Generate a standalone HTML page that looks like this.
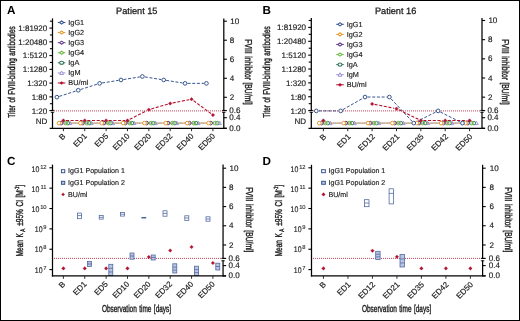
<!DOCTYPE html>
<html lang="en">
<head>
<meta charset="utf-8">
<title>FVIII-binding antibodies and inhibitor: Patient 15 and Patient 16</title>
<style>
html,body{margin:0;padding:0;background:#fff;}
body{width:520px;height:321px;overflow:hidden;position:relative;}
#fig{position:absolute;left:0;top:0;width:520px;height:321px;box-sizing:border-box;border:1px solid #000;background:#fff;}
svg{position:absolute;left:0;top:0;display:block;}
svg text{font-family:"Liberation Sans",sans-serif;text-rendering:geometricPrecision;stroke:#1a1a1a;stroke-width:0.15px;paint-order:stroke;}
svg text.lab{stroke-width:0.38px;}
svg text.sup{stroke-width:0.1px;}
svg text.leg{stroke-width:0.15px;}
svg text.pl{stroke-width:0;}
svg text.ttl{stroke-width:0.28px;}
</style>
</head>
<body>
<div id="fig"></div>
<svg width="520" height="321" viewBox="0 0 520 321" role="img" aria-label="Antibody titers, affinity and FVIII inhibitor over time for patients 15 and 16">
<line x1="53.95" y1="110.90" x2="223.20" y2="110.90" stroke="#b3122f" stroke-width="1.0" stroke-dasharray="1 1" stroke-opacity="0.82"/>
<path d="M72.50,123.10L88.86,123.10M93.86,123.10L110.22,123.10M115.22,123.10L131.58,123.10M136.58,123.10L152.94,123.10M157.94,123.10L174.30,123.10M179.30,123.10L195.66,123.10M200.66,123.10L217.02,123.10" fill="none" stroke="#9d92d6" stroke-width="0.6" stroke-dasharray="3 1.7" stroke-opacity="0.4"/>
<path d="M70.30,123.10L86.66,123.10M91.66,123.10L108.02,123.10M113.02,123.10L129.38,123.10M134.38,123.10L150.74,123.10M155.74,123.10L172.10,123.10M177.10,123.10L193.46,123.10M198.46,123.10L214.82,123.10" fill="none" stroke="#34785a" stroke-width="0.6" stroke-dasharray="3 1.7" stroke-opacity="0.4"/>
<path d="M68.20,123.10L84.56,123.10M89.56,123.10L105.92,123.10M110.92,123.10L127.28,123.10M132.28,123.10L148.64,123.10M153.64,123.10L170.00,123.10M175.00,123.10L191.36,123.10M196.36,123.10L212.72,123.10" fill="none" stroke="#72bd4a" stroke-width="0.6" stroke-dasharray="3 1.7" stroke-opacity="0.4"/>
<path d="M63.70,123.10L80.06,123.10M85.06,123.10L101.42,123.10M106.42,123.10L122.78,123.10M127.78,123.10L144.14,123.10M149.14,123.10L165.50,123.10M170.50,123.10L186.86,123.10M191.86,123.10L208.22,123.10" fill="none" stroke="#633c8e" stroke-width="0.8" stroke-dasharray="3 1.7" stroke-opacity="0.55"/>
<path d="M61.50,123.10L77.86,123.10M82.86,123.10L99.22,123.10M104.22,123.10L120.58,123.10M125.58,123.10L141.94,123.10M146.94,123.10L163.30,123.10M168.30,123.10L184.66,123.10M189.66,123.10L206.02,123.10" fill="none" stroke="#e8982a" stroke-width="0.85" stroke-dasharray="3 1.7" stroke-opacity="0.95"/>
<path d="M59.28,96.38L75.88,91.04M80.64,89.50L97.24,84.16M102.09,82.99L118.51,80.35M123.45,79.56L139.87,76.91M144.81,76.91L161.23,79.56M166.17,80.35L182.59,82.99M187.56,83.39L203.92,83.39" fill="none" stroke="#37558f" stroke-width="1.0" stroke-dasharray="3 1.7" stroke-opacity="1"/>
<path d="M65.90,120.48L82.26,120.48M87.26,120.48L103.62,120.48M108.62,120.48L124.98,120.48M129.71,119.35L146.61,110.78M151.24,108.95L167.80,104.16M172.65,102.98L189.11,99.68M193.57,100.68L210.91,113.56" fill="none" stroke="#b3122f" stroke-width="1.1" stroke-dasharray="3.1 1.6" stroke-opacity="1"/>
<path d="M68.10,124.62 L70.00,121.20 L71.90,124.62 Z" fill="none" stroke="#9d92d6" stroke-width="0.95"/>
<path d="M89.46,124.62 L91.36,121.20 L93.26,124.62 Z" fill="none" stroke="#9d92d6" stroke-width="0.95"/>
<path d="M110.82,124.62 L112.72,121.20 L114.62,124.62 Z" fill="none" stroke="#9d92d6" stroke-width="0.95"/>
<path d="M132.18,124.62 L134.08,121.20 L135.98,124.62 Z" fill="none" stroke="#9d92d6" stroke-width="0.95"/>
<path d="M153.54,124.62 L155.44,121.20 L157.34,124.62 Z" fill="none" stroke="#9d92d6" stroke-width="0.95"/>
<path d="M174.90,124.62 L176.80,121.20 L178.70,124.62 Z" fill="none" stroke="#9d92d6" stroke-width="0.95"/>
<path d="M196.26,124.62 L198.16,121.20 L200.06,124.62 Z" fill="none" stroke="#9d92d6" stroke-width="0.95"/>
<path d="M217.62,124.62 L219.52,121.20 L221.42,124.62 Z" fill="none" stroke="#9d92d6" stroke-width="0.95"/>
<circle cx="67.80" cy="123.10" r="1.75" fill="#fff" stroke="#34785a" stroke-width="0.9"/>
<circle cx="89.16" cy="123.10" r="1.75" fill="#fff" stroke="#34785a" stroke-width="0.9"/>
<circle cx="110.52" cy="123.10" r="1.75" fill="#fff" stroke="#34785a" stroke-width="0.9"/>
<circle cx="131.88" cy="123.10" r="1.75" fill="#fff" stroke="#34785a" stroke-width="0.9"/>
<circle cx="153.24" cy="123.10" r="1.75" fill="#fff" stroke="#34785a" stroke-width="0.9"/>
<circle cx="174.60" cy="123.10" r="1.75" fill="#fff" stroke="#34785a" stroke-width="0.9"/>
<circle cx="195.96" cy="123.10" r="1.75" fill="#fff" stroke="#34785a" stroke-width="0.9"/>
<circle cx="217.32" cy="123.10" r="1.75" fill="#fff" stroke="#34785a" stroke-width="0.9"/>
<circle cx="65.70" cy="123.10" r="1.85" fill="none" stroke="#72bd4a" stroke-width="1.05"/>
<circle cx="87.06" cy="123.10" r="1.85" fill="none" stroke="#72bd4a" stroke-width="1.05"/>
<circle cx="108.42" cy="123.10" r="1.85" fill="none" stroke="#72bd4a" stroke-width="1.05"/>
<circle cx="129.78" cy="123.10" r="1.85" fill="none" stroke="#72bd4a" stroke-width="1.05"/>
<circle cx="151.14" cy="123.10" r="1.85" fill="none" stroke="#72bd4a" stroke-width="1.05"/>
<circle cx="172.50" cy="123.10" r="1.85" fill="none" stroke="#72bd4a" stroke-width="1.05"/>
<circle cx="193.86" cy="123.10" r="1.85" fill="none" stroke="#72bd4a" stroke-width="1.05"/>
<circle cx="215.22" cy="123.10" r="1.85" fill="none" stroke="#72bd4a" stroke-width="1.05"/>
<circle cx="61.20" cy="123.10" r="1.8" fill="none" stroke="#633c8e" stroke-width="1.0"/>
<circle cx="82.56" cy="123.10" r="1.8" fill="none" stroke="#633c8e" stroke-width="1.0"/>
<circle cx="103.92" cy="123.10" r="1.8" fill="none" stroke="#633c8e" stroke-width="1.0"/>
<circle cx="125.28" cy="123.10" r="1.8" fill="none" stroke="#633c8e" stroke-width="1.0"/>
<circle cx="146.64" cy="123.10" r="1.8" fill="none" stroke="#633c8e" stroke-width="1.0"/>
<circle cx="168.00" cy="123.10" r="1.8" fill="none" stroke="#633c8e" stroke-width="1.0"/>
<circle cx="189.36" cy="123.10" r="1.8" fill="none" stroke="#633c8e" stroke-width="1.0"/>
<circle cx="210.72" cy="123.10" r="1.8" fill="none" stroke="#633c8e" stroke-width="1.0"/>
<circle cx="59.00" cy="123.10" r="1.85" fill="#fff" stroke="#e8982a" stroke-width="1.0"/>
<circle cx="80.36" cy="123.10" r="1.85" fill="#fff" stroke="#e8982a" stroke-width="1.0"/>
<circle cx="101.72" cy="123.10" r="1.85" fill="#fff" stroke="#e8982a" stroke-width="1.0"/>
<circle cx="123.08" cy="123.10" r="1.85" fill="#fff" stroke="#e8982a" stroke-width="1.0"/>
<circle cx="144.44" cy="123.10" r="1.85" fill="#fff" stroke="#e8982a" stroke-width="1.0"/>
<circle cx="165.80" cy="123.10" r="1.85" fill="#fff" stroke="#e8982a" stroke-width="1.0"/>
<circle cx="187.16" cy="123.10" r="1.85" fill="#fff" stroke="#e8982a" stroke-width="1.0"/>
<circle cx="208.52" cy="123.10" r="1.85" fill="#fff" stroke="#e8982a" stroke-width="1.0"/>
<circle cx="56.90" cy="97.15" r="1.85" fill="#fff" stroke="#37558f" stroke-width="1.0"/>
<circle cx="78.26" cy="90.27" r="1.85" fill="#fff" stroke="#37558f" stroke-width="1.0"/>
<circle cx="99.62" cy="83.39" r="1.85" fill="#fff" stroke="#37558f" stroke-width="1.0"/>
<circle cx="120.98" cy="79.95" r="1.85" fill="#fff" stroke="#37558f" stroke-width="1.0"/>
<circle cx="142.34" cy="76.52" r="1.85" fill="#fff" stroke="#37558f" stroke-width="1.0"/>
<circle cx="163.70" cy="79.95" r="1.85" fill="#fff" stroke="#37558f" stroke-width="1.0"/>
<circle cx="185.06" cy="83.39" r="1.85" fill="#fff" stroke="#37558f" stroke-width="1.0"/>
<circle cx="206.42" cy="83.39" r="1.85" fill="#fff" stroke="#37558f" stroke-width="1.0"/>
<path d="M61.65,120.48 L63.40,118.73 L65.15,120.48 L63.40,122.23 Z" fill="#b3122f" stroke="#b3122f" stroke-width="0.4" stroke-linejoin="round"/>
<path d="M83.01,120.48 L84.76,118.73 L86.51,120.48 L84.76,122.23 Z" fill="#b3122f" stroke="#b3122f" stroke-width="0.4" stroke-linejoin="round"/>
<path d="M104.37,120.48 L106.12,118.73 L107.87,120.48 L106.12,122.23 Z" fill="#b3122f" stroke="#b3122f" stroke-width="0.4" stroke-linejoin="round"/>
<path d="M125.73,120.48 L127.48,118.73 L129.23,120.48 L127.48,122.23 Z" fill="#b3122f" stroke="#b3122f" stroke-width="0.4" stroke-linejoin="round"/>
<path d="M147.09,109.65 L148.84,107.90 L150.59,109.65 L148.84,111.40 Z" fill="#b3122f" stroke="#b3122f" stroke-width="0.4" stroke-linejoin="round"/>
<path d="M168.45,103.47 L170.20,101.72 L171.95,103.47 L170.20,105.22 Z" fill="#b3122f" stroke="#b3122f" stroke-width="0.4" stroke-linejoin="round"/>
<path d="M189.81,99.19 L191.56,97.44 L193.31,99.19 L191.56,100.94 Z" fill="#b3122f" stroke="#b3122f" stroke-width="0.4" stroke-linejoin="round"/>
<path d="M211.17,115.05 L212.92,113.30 L214.67,115.05 L212.92,116.80 Z" fill="#b3122f" stroke="#b3122f" stroke-width="0.4" stroke-linejoin="round"/>
<line x1="52.50" y1="18.40" x2="52.50" y2="110.85" stroke="#000" stroke-width="1.25" />
<line x1="52.50" y1="111.85" x2="52.50" y2="128.93" stroke="#000" stroke-width="1.25" />
<line x1="50.80" y1="110.40" x2="54.20" y2="110.40" stroke="#000" stroke-width="0.9" />
<line x1="50.80" y1="112.30" x2="54.20" y2="112.30" stroke="#000" stroke-width="0.9" />
<line x1="223.80" y1="18.40" x2="223.80" y2="110.85" stroke="#000" stroke-width="1.25" />
<line x1="223.80" y1="111.85" x2="223.80" y2="128.93" stroke="#000" stroke-width="1.25" />
<line x1="222.10" y1="110.40" x2="225.50" y2="110.40" stroke="#000" stroke-width="0.9" />
<line x1="222.10" y1="112.30" x2="225.50" y2="112.30" stroke="#000" stroke-width="0.9" />
<line x1="49.70" y1="128.30" x2="226.80" y2="128.30" stroke="#000" stroke-width="1.18" />
<line x1="49.90" y1="21.20" x2="52.50" y2="21.20" stroke="#000" stroke-width="1.1" />
<line x1="49.40" y1="28.08" x2="52.50" y2="28.08" stroke="#000" stroke-width="1.1" />
<text x="47.30" y="30.67" font-size="8.05" text-anchor="end" fill="#1a1a1a" >1:81920</text>
<line x1="49.90" y1="34.95" x2="52.50" y2="34.95" stroke="#000" stroke-width="1.1" />
<line x1="49.40" y1="41.83" x2="52.50" y2="41.83" stroke="#000" stroke-width="1.1" />
<text x="47.30" y="44.50" font-size="8.05" text-anchor="end" fill="#1a1a1a" >1:20480</text>
<line x1="49.90" y1="48.71" x2="52.50" y2="48.71" stroke="#000" stroke-width="1.1" />
<line x1="49.40" y1="55.58" x2="52.50" y2="55.58" stroke="#000" stroke-width="1.1" />
<text x="47.30" y="58.33" font-size="8.05" text-anchor="end" fill="#1a1a1a" >1:5120</text>
<line x1="49.90" y1="62.46" x2="52.50" y2="62.46" stroke="#000" stroke-width="1.1" />
<line x1="49.40" y1="69.34" x2="52.50" y2="69.34" stroke="#000" stroke-width="1.1" />
<text x="47.30" y="72.17" font-size="8.05" text-anchor="end" fill="#1a1a1a" >1:1280</text>
<line x1="49.90" y1="76.22" x2="52.50" y2="76.22" stroke="#000" stroke-width="1.1" />
<line x1="49.40" y1="83.09" x2="52.50" y2="83.09" stroke="#000" stroke-width="1.1" />
<text x="47.30" y="86.00" font-size="8.05" text-anchor="end" fill="#1a1a1a" >1:320</text>
<line x1="49.90" y1="89.97" x2="52.50" y2="89.97" stroke="#000" stroke-width="1.1" />
<line x1="49.40" y1="96.85" x2="52.50" y2="96.85" stroke="#000" stroke-width="1.1" />
<text x="47.30" y="99.84" font-size="8.05" text-anchor="end" fill="#1a1a1a" >1:80</text>
<line x1="49.90" y1="103.72" x2="52.50" y2="103.72" stroke="#000" stroke-width="1.1" />
<line x1="49.40" y1="110.60" x2="52.50" y2="110.60" stroke="#000" stroke-width="1.1" />
<text x="47.30" y="113.67" font-size="8.05" text-anchor="end" fill="#1a1a1a" >1:20</text>
<line x1="223.80" y1="21.20" x2="226.90" y2="21.20" stroke="#000" stroke-width="1.1" />
<text x="230.20" y="23.80" font-size="8.05" text-anchor="start" fill="#1a1a1a" >10</text>
<line x1="223.80" y1="40.22" x2="226.90" y2="40.22" stroke="#000" stroke-width="1.1" />
<text x="229.80" y="42.82" font-size="8.05" text-anchor="start" fill="#1a1a1a" >8</text>
<line x1="223.80" y1="59.24" x2="226.90" y2="59.24" stroke="#000" stroke-width="1.1" />
<text x="229.80" y="61.84" font-size="8.05" text-anchor="start" fill="#1a1a1a" >6</text>
<line x1="223.80" y1="78.26" x2="226.90" y2="78.26" stroke="#000" stroke-width="1.1" />
<text x="229.80" y="80.86" font-size="8.05" text-anchor="start" fill="#1a1a1a" >4</text>
<line x1="223.80" y1="97.29" x2="226.90" y2="97.29" stroke="#000" stroke-width="1.1" />
<text x="229.80" y="99.89" font-size="8.05" text-anchor="start" fill="#1a1a1a" >2</text>
<line x1="223.80" y1="110.60" x2="226.90" y2="110.60" stroke="#000" stroke-width="1.1" />
<text x="229.20" y="113.20" font-size="8.05" text-anchor="start" fill="#1a1a1a" >0.6</text>
<line x1="223.80" y1="117.70" x2="226.90" y2="117.70" stroke="#000" stroke-width="1.1" />
<text x="229.20" y="120.30" font-size="8.05" text-anchor="start" fill="#1a1a1a" >0.4</text>
<line x1="223.80" y1="128.30" x2="226.90" y2="128.30" stroke="#000" stroke-width="1.1" />
<text x="229.20" y="130.60" font-size="8.05" text-anchor="start" fill="#1a1a1a" >0.0</text>
<line x1="63.40" y1="128.30" x2="63.40" y2="131.20" stroke="#222" stroke-width="0.95" />
<text class="" transform="translate(66.10,136.60) rotate(-45) scale(1.0,1)" font-size="8" word-spacing="0" text-anchor="end" fill="#1a1a1a">B</text>
<line x1="84.76" y1="128.30" x2="84.76" y2="131.20" stroke="#222" stroke-width="0.95" />
<text class="" transform="translate(87.46,136.60) rotate(-45) scale(1.0,1)" font-size="8" word-spacing="0" text-anchor="end" fill="#1a1a1a">ED1</text>
<line x1="106.12" y1="128.30" x2="106.12" y2="131.20" stroke="#222" stroke-width="0.95" />
<text class="" transform="translate(108.82,136.60) rotate(-45) scale(1.0,1)" font-size="8" word-spacing="0" text-anchor="end" fill="#1a1a1a">ED5</text>
<line x1="127.48" y1="128.30" x2="127.48" y2="131.20" stroke="#222" stroke-width="0.95" />
<text class="" transform="translate(130.18,136.60) rotate(-45) scale(1.0,1)" font-size="8" word-spacing="0" text-anchor="end" fill="#1a1a1a">ED10</text>
<line x1="148.84" y1="128.30" x2="148.84" y2="131.20" stroke="#222" stroke-width="0.95" />
<text class="" transform="translate(151.54,136.60) rotate(-45) scale(1.0,1)" font-size="8" word-spacing="0" text-anchor="end" fill="#1a1a1a">ED20</text>
<line x1="170.20" y1="128.30" x2="170.20" y2="131.20" stroke="#222" stroke-width="0.95" />
<text class="" transform="translate(172.90,136.60) rotate(-45) scale(1.0,1)" font-size="8" word-spacing="0" text-anchor="end" fill="#1a1a1a">ED32</text>
<line x1="191.56" y1="128.30" x2="191.56" y2="131.20" stroke="#222" stroke-width="0.95" />
<text class="" transform="translate(194.26,136.60) rotate(-45) scale(1.0,1)" font-size="8" word-spacing="0" text-anchor="end" fill="#1a1a1a">ED40</text>
<line x1="212.92" y1="128.30" x2="212.92" y2="131.20" stroke="#222" stroke-width="0.95" />
<text class="" transform="translate(215.62,136.60) rotate(-45) scale(1.0,1)" font-size="8" word-spacing="0" text-anchor="end" fill="#1a1a1a">ED50</text>
<text x="6.90" y="14.20" font-size="11.7" text-anchor="start" fill="#000" font-weight="bold" class="pl">A</text>
<text x="136.80" y="14.30" font-size="9.2" text-anchor="middle" fill="#1a1a1a" class="ttl">Patient 15</text>
<text class="lab" transform="translate(14.70,72.00) rotate(-90) scale(0.646,1)" font-size="10.0" word-spacing="1.0" text-anchor="middle" fill="#1a1a1a">Titer of FVIII-binding antibodies</text>
<text class="lab" transform="translate(245.10,72.00) rotate(90) scale(0.677,1)" font-size="10.0" word-spacing="1.0" text-anchor="middle" fill="#1a1a1a">FVIII inhibitor [BU/ml]</text>
<text x="47.30" y="123.80" font-size="8.05" text-anchor="end" fill="#1a1a1a" >ND</text>
<line x1="57.80" y1="22.50" x2="65.40" y2="22.50" stroke="#37558f" stroke-width="1.0" />
<path d="M59.50,22.50 L61.60,20.90 L63.70,22.50 L61.60,24.10 Z" fill="#fff" stroke="#37558f" stroke-width="1.05" stroke-linejoin="round"/>
<text x="68.30" y="24.80" font-size="7.3" text-anchor="start" fill="#1a1a1a" class="leg">IgG1</text>
<line x1="57.80" y1="32.58" x2="65.40" y2="32.58" stroke="#e8982a" stroke-width="1.0" />
<path d="M59.50,32.58 L61.60,30.98 L63.70,32.58 L61.60,34.18 Z" fill="#fff" stroke="#e8982a" stroke-width="1.05" stroke-linejoin="round"/>
<text x="68.30" y="34.88" font-size="7.3" text-anchor="start" fill="#1a1a1a" class="leg">IgG2</text>
<line x1="57.80" y1="42.66" x2="65.40" y2="42.66" stroke="#633c8e" stroke-width="1.0" />
<path d="M59.50,42.66 L61.60,41.06 L63.70,42.66 L61.60,44.26 Z" fill="#fff" stroke="#633c8e" stroke-width="1.05" stroke-linejoin="round"/>
<text x="68.30" y="44.96" font-size="7.3" text-anchor="start" fill="#1a1a1a" class="leg">IgG3</text>
<line x1="57.80" y1="52.74" x2="65.40" y2="52.74" stroke="#72bd4a" stroke-width="1.0" />
<path d="M59.50,52.74 L61.60,51.14 L63.70,52.74 L61.60,54.34 Z" fill="#fff" stroke="#72bd4a" stroke-width="1.05" stroke-linejoin="round"/>
<text x="68.30" y="55.04" font-size="7.3" text-anchor="start" fill="#1a1a1a" class="leg">IgG4</text>
<line x1="57.80" y1="62.82" x2="65.40" y2="62.82" stroke="#34785a" stroke-width="1.0" />
<ellipse cx="61.60" cy="62.82" rx="2.0" ry="1.6" fill="#fff" stroke="#34785a" stroke-width="1.15"/>
<text x="68.30" y="65.12" font-size="7.3" text-anchor="start" fill="#1a1a1a" class="leg">IgA</text>
<line x1="57.80" y1="72.90" x2="65.40" y2="72.90" stroke="#9d92d6" stroke-width="1.0" />
<path d="M59.70,74.42 L61.60,71.00 L63.50,74.42 Z" fill="#fff" stroke="#9d92d6" stroke-width="1.0"/>
<text x="68.30" y="75.20" font-size="7.3" text-anchor="start" fill="#1a1a1a" class="leg">IgM</text>
<line x1="57.80" y1="82.98" x2="65.40" y2="82.98" stroke="#b3122f" stroke-width="1.0" />
<path d="M59.70,82.98 L61.60,81.38 L63.50,82.98 L61.60,84.58 Z" fill="#b3122f" stroke="#b3122f" stroke-width="0.3" stroke-linejoin="round"/>
<text x="68.30" y="85.28" font-size="7.3" text-anchor="start" fill="#1a1a1a" class="leg">BU/ml</text>
<line x1="312.95" y1="110.90" x2="481.40" y2="110.90" stroke="#b3122f" stroke-width="1.0" stroke-dasharray="1 1" stroke-opacity="0.82"/>
<path d="M332.70,123.10L352.06,123.10M357.06,123.10L376.42,123.10M381.42,123.10L400.78,123.10M405.78,123.10L425.14,123.10M430.14,123.10L449.50,123.10M454.50,123.10L473.86,123.10" fill="none" stroke="#9d92d6" stroke-width="0.6" stroke-dasharray="3 1.7" stroke-opacity="0.4"/>
<path d="M330.20,123.10L349.56,123.10M354.56,123.10L373.92,123.10M378.92,123.10L398.28,123.10M403.28,123.10L422.64,123.10M427.64,123.10L447.00,123.10M452.00,123.10L471.36,123.10" fill="none" stroke="#34785a" stroke-width="0.6" stroke-dasharray="3 1.7" stroke-opacity="0.4"/>
<path d="M327.80,123.10L347.16,123.10M352.16,123.10L371.52,123.10M376.52,123.10L395.88,123.10M400.88,123.10L420.24,123.10M425.24,123.10L444.60,123.10M449.60,123.10L468.96,123.10" fill="none" stroke="#72bd4a" stroke-width="0.6" stroke-dasharray="3 1.7" stroke-opacity="0.4"/>
<path d="M324.00,123.10L343.36,123.10M348.36,123.10L367.72,123.10M372.72,123.10L392.08,123.10M397.08,123.10L416.44,123.10M421.44,123.10L440.80,123.10M445.80,123.10L465.16,123.10" fill="none" stroke="#633c8e" stroke-width="0.8" stroke-dasharray="3 1.7" stroke-opacity="0.55"/>
<path d="M321.80,123.10L341.16,123.10M346.16,123.10L365.52,123.10M370.52,123.10L389.88,123.10M394.88,123.10L414.24,123.10M419.24,123.10L438.60,123.10M443.60,123.10L462.96,123.10" fill="none" stroke="#e8982a" stroke-width="0.85" stroke-dasharray="3 1.7" stroke-opacity="0.95"/>
<path d="M318.80,110.90L338.16,110.90M342.83,109.66L362.85,98.27M367.52,97.04L386.88,97.04M391.09,98.86L412.03,121.27M415.98,121.98L435.86,112.02M440.34,112.02L460.22,121.98" fill="none" stroke="#37558f" stroke-width="1.0" stroke-dasharray="3 1.7" stroke-opacity="1"/>
<path d="M374.57,104.37L394.03,108.20M398.73,109.77L418.59,119.39M423.34,120.48L442.70,120.48M447.70,120.48L467.06,120.48" fill="none" stroke="#b3122f" stroke-width="1.1" stroke-dasharray="3.1 1.6" stroke-opacity="1"/>
<path d="M328.30,124.62 L330.20,121.20 L332.10,124.62 Z" fill="none" stroke="#9d92d6" stroke-width="0.95"/>
<path d="M352.66,124.62 L354.56,121.20 L356.46,124.62 Z" fill="none" stroke="#9d92d6" stroke-width="0.95"/>
<path d="M377.02,124.62 L378.92,121.20 L380.82,124.62 Z" fill="none" stroke="#9d92d6" stroke-width="0.95"/>
<path d="M401.38,124.62 L403.28,121.20 L405.18,124.62 Z" fill="none" stroke="#9d92d6" stroke-width="0.95"/>
<path d="M425.74,124.62 L427.64,121.20 L429.54,124.62 Z" fill="none" stroke="#9d92d6" stroke-width="0.95"/>
<path d="M450.10,124.62 L452.00,121.20 L453.90,124.62 Z" fill="none" stroke="#9d92d6" stroke-width="0.95"/>
<path d="M474.46,124.62 L476.36,121.20 L478.26,124.62 Z" fill="none" stroke="#9d92d6" stroke-width="0.95"/>
<circle cx="327.70" cy="123.10" r="1.75" fill="#fff" stroke="#34785a" stroke-width="0.9"/>
<circle cx="352.06" cy="123.10" r="1.75" fill="#fff" stroke="#34785a" stroke-width="0.9"/>
<circle cx="376.42" cy="123.10" r="1.75" fill="#fff" stroke="#34785a" stroke-width="0.9"/>
<circle cx="400.78" cy="123.10" r="1.75" fill="#fff" stroke="#34785a" stroke-width="0.9"/>
<circle cx="425.14" cy="123.10" r="1.75" fill="#fff" stroke="#34785a" stroke-width="0.9"/>
<circle cx="449.50" cy="123.10" r="1.75" fill="#fff" stroke="#34785a" stroke-width="0.9"/>
<circle cx="473.86" cy="123.10" r="1.75" fill="#fff" stroke="#34785a" stroke-width="0.9"/>
<circle cx="325.30" cy="123.10" r="1.85" fill="none" stroke="#72bd4a" stroke-width="1.05"/>
<circle cx="349.66" cy="123.10" r="1.85" fill="none" stroke="#72bd4a" stroke-width="1.05"/>
<circle cx="374.02" cy="123.10" r="1.85" fill="none" stroke="#72bd4a" stroke-width="1.05"/>
<circle cx="398.38" cy="123.10" r="1.85" fill="none" stroke="#72bd4a" stroke-width="1.05"/>
<circle cx="422.74" cy="123.10" r="1.85" fill="none" stroke="#72bd4a" stroke-width="1.05"/>
<circle cx="447.10" cy="123.10" r="1.85" fill="none" stroke="#72bd4a" stroke-width="1.05"/>
<circle cx="471.46" cy="123.10" r="1.85" fill="none" stroke="#72bd4a" stroke-width="1.05"/>
<circle cx="321.50" cy="123.10" r="1.8" fill="none" stroke="#633c8e" stroke-width="1.0"/>
<circle cx="345.86" cy="123.10" r="1.8" fill="none" stroke="#633c8e" stroke-width="1.0"/>
<circle cx="370.22" cy="123.10" r="1.8" fill="none" stroke="#633c8e" stroke-width="1.0"/>
<circle cx="394.58" cy="123.10" r="1.8" fill="none" stroke="#633c8e" stroke-width="1.0"/>
<circle cx="418.94" cy="123.10" r="1.8" fill="none" stroke="#633c8e" stroke-width="1.0"/>
<circle cx="443.30" cy="123.10" r="1.8" fill="none" stroke="#633c8e" stroke-width="1.0"/>
<circle cx="467.66" cy="123.10" r="1.8" fill="none" stroke="#633c8e" stroke-width="1.0"/>
<circle cx="319.30" cy="123.10" r="1.85" fill="#fff" stroke="#e8982a" stroke-width="1.0"/>
<circle cx="343.66" cy="123.10" r="1.85" fill="#fff" stroke="#e8982a" stroke-width="1.0"/>
<circle cx="368.02" cy="123.10" r="1.85" fill="#fff" stroke="#e8982a" stroke-width="1.0"/>
<circle cx="392.38" cy="123.10" r="1.85" fill="#fff" stroke="#e8982a" stroke-width="1.0"/>
<circle cx="416.74" cy="123.10" r="1.85" fill="#fff" stroke="#e8982a" stroke-width="1.0"/>
<circle cx="441.10" cy="123.10" r="1.85" fill="#fff" stroke="#e8982a" stroke-width="1.0"/>
<circle cx="465.46" cy="123.10" r="1.85" fill="#fff" stroke="#e8982a" stroke-width="1.0"/>
<circle cx="316.30" cy="110.90" r="1.85" fill="#fff" stroke="#37558f" stroke-width="1.0"/>
<circle cx="340.66" cy="110.90" r="1.85" fill="#fff" stroke="#37558f" stroke-width="1.0"/>
<circle cx="365.02" cy="97.04" r="1.85" fill="#fff" stroke="#37558f" stroke-width="1.0"/>
<circle cx="389.38" cy="97.04" r="1.85" fill="#fff" stroke="#37558f" stroke-width="1.0"/>
<circle cx="413.74" cy="123.10" r="1.85" fill="#fff" stroke="#37558f" stroke-width="1.0"/>
<circle cx="438.10" cy="110.90" r="1.85" fill="#fff" stroke="#37558f" stroke-width="1.0"/>
<circle cx="462.46" cy="123.10" r="1.85" fill="#fff" stroke="#37558f" stroke-width="1.0"/>
<path d="M321.65,120.48 L323.40,118.73 L325.15,120.48 L323.40,122.23 Z" fill="#b3122f" stroke="#b3122f" stroke-width="0.4" stroke-linejoin="round"/>
<path d="M370.37,103.89 L372.12,102.14 L373.87,103.89 L372.12,105.64 Z" fill="#b3122f" stroke="#b3122f" stroke-width="0.4" stroke-linejoin="round"/>
<path d="M394.73,108.68 L396.48,106.93 L398.23,108.68 L396.48,110.43 Z" fill="#b3122f" stroke="#b3122f" stroke-width="0.4" stroke-linejoin="round"/>
<path d="M419.09,120.48 L420.84,118.73 L422.59,120.48 L420.84,122.23 Z" fill="#b3122f" stroke="#b3122f" stroke-width="0.4" stroke-linejoin="round"/>
<path d="M443.45,120.48 L445.20,118.73 L446.95,120.48 L445.20,122.23 Z" fill="#b3122f" stroke="#b3122f" stroke-width="0.4" stroke-linejoin="round"/>
<path d="M467.81,120.48 L469.56,118.73 L471.31,120.48 L469.56,122.23 Z" fill="#b3122f" stroke="#b3122f" stroke-width="0.4" stroke-linejoin="round"/>
<line x1="311.30" y1="18.00" x2="311.30" y2="110.85" stroke="#000" stroke-width="1.25" />
<line x1="311.30" y1="111.85" x2="311.30" y2="128.93" stroke="#000" stroke-width="1.25" />
<line x1="309.60" y1="110.40" x2="313.00" y2="110.40" stroke="#000" stroke-width="0.9" />
<line x1="309.60" y1="112.30" x2="313.00" y2="112.30" stroke="#000" stroke-width="0.9" />
<line x1="482.00" y1="18.00" x2="482.00" y2="110.85" stroke="#000" stroke-width="1.25" />
<line x1="482.00" y1="111.85" x2="482.00" y2="128.93" stroke="#000" stroke-width="1.25" />
<line x1="480.30" y1="110.40" x2="483.70" y2="110.40" stroke="#000" stroke-width="0.9" />
<line x1="480.30" y1="112.30" x2="483.70" y2="112.30" stroke="#000" stroke-width="0.9" />
<line x1="308.50" y1="128.30" x2="485.00" y2="128.30" stroke="#000" stroke-width="1.18" />
<line x1="308.70" y1="20.50" x2="311.30" y2="20.50" stroke="#000" stroke-width="1.1" />
<line x1="308.20" y1="27.43" x2="311.30" y2="27.43" stroke="#000" stroke-width="1.1" />
<text x="306.10" y="30.02" font-size="8.05" text-anchor="end" fill="#1a1a1a" >1:81920</text>
<line x1="308.70" y1="34.36" x2="311.30" y2="34.36" stroke="#000" stroke-width="1.1" />
<line x1="308.20" y1="41.29" x2="311.30" y2="41.29" stroke="#000" stroke-width="1.1" />
<text x="306.10" y="43.96" font-size="8.05" text-anchor="end" fill="#1a1a1a" >1:20480</text>
<line x1="308.70" y1="48.22" x2="311.30" y2="48.22" stroke="#000" stroke-width="1.1" />
<line x1="308.20" y1="55.15" x2="311.30" y2="55.15" stroke="#000" stroke-width="1.1" />
<text x="306.10" y="57.90" font-size="8.05" text-anchor="end" fill="#1a1a1a" >1:5120</text>
<line x1="308.70" y1="62.08" x2="311.30" y2="62.08" stroke="#000" stroke-width="1.1" />
<line x1="308.20" y1="69.02" x2="311.30" y2="69.02" stroke="#000" stroke-width="1.1" />
<text x="306.10" y="71.85" font-size="8.05" text-anchor="end" fill="#1a1a1a" >1:1280</text>
<line x1="308.70" y1="75.95" x2="311.30" y2="75.95" stroke="#000" stroke-width="1.1" />
<line x1="308.20" y1="82.88" x2="311.30" y2="82.88" stroke="#000" stroke-width="1.1" />
<text x="306.10" y="85.79" font-size="8.05" text-anchor="end" fill="#1a1a1a" >1:320</text>
<line x1="308.70" y1="89.81" x2="311.30" y2="89.81" stroke="#000" stroke-width="1.1" />
<line x1="308.20" y1="96.74" x2="311.30" y2="96.74" stroke="#000" stroke-width="1.1" />
<text x="306.10" y="99.73" font-size="8.05" text-anchor="end" fill="#1a1a1a" >1:80</text>
<line x1="308.70" y1="103.67" x2="311.30" y2="103.67" stroke="#000" stroke-width="1.1" />
<line x1="308.20" y1="110.60" x2="311.30" y2="110.60" stroke="#000" stroke-width="1.1" />
<text x="306.10" y="113.67" font-size="8.05" text-anchor="end" fill="#1a1a1a" >1:20</text>
<line x1="482.00" y1="20.50" x2="485.10" y2="20.50" stroke="#000" stroke-width="1.1" />
<text x="488.40" y="23.10" font-size="8.05" text-anchor="start" fill="#1a1a1a" >10</text>
<line x1="482.00" y1="39.67" x2="485.10" y2="39.67" stroke="#000" stroke-width="1.1" />
<text x="488.00" y="42.27" font-size="8.05" text-anchor="start" fill="#1a1a1a" >8</text>
<line x1="482.00" y1="58.84" x2="485.10" y2="58.84" stroke="#000" stroke-width="1.1" />
<text x="488.00" y="61.44" font-size="8.05" text-anchor="start" fill="#1a1a1a" >6</text>
<line x1="482.00" y1="78.01" x2="485.10" y2="78.01" stroke="#000" stroke-width="1.1" />
<text x="488.00" y="80.61" font-size="8.05" text-anchor="start" fill="#1a1a1a" >4</text>
<line x1="482.00" y1="97.18" x2="485.10" y2="97.18" stroke="#000" stroke-width="1.1" />
<text x="488.00" y="99.78" font-size="8.05" text-anchor="start" fill="#1a1a1a" >2</text>
<line x1="482.00" y1="110.60" x2="485.10" y2="110.60" stroke="#000" stroke-width="1.1" />
<text x="487.40" y="113.20" font-size="8.05" text-anchor="start" fill="#1a1a1a" >0.6</text>
<line x1="482.00" y1="117.70" x2="485.10" y2="117.70" stroke="#000" stroke-width="1.1" />
<text x="487.40" y="120.30" font-size="8.05" text-anchor="start" fill="#1a1a1a" >0.4</text>
<line x1="482.00" y1="128.30" x2="485.10" y2="128.30" stroke="#000" stroke-width="1.1" />
<text x="487.40" y="130.60" font-size="8.05" text-anchor="start" fill="#1a1a1a" >0.0</text>
<line x1="323.40" y1="128.30" x2="323.40" y2="131.20" stroke="#222" stroke-width="0.95" />
<text class="" transform="translate(326.80,137.20) rotate(-45) scale(1.0,1)" font-size="8" word-spacing="0" text-anchor="end" fill="#1a1a1a">B</text>
<line x1="347.76" y1="128.30" x2="347.76" y2="131.20" stroke="#222" stroke-width="0.95" />
<text class="" transform="translate(351.16,137.20) rotate(-45) scale(1.0,1)" font-size="8" word-spacing="0" text-anchor="end" fill="#1a1a1a">ED1</text>
<line x1="372.12" y1="128.30" x2="372.12" y2="131.20" stroke="#222" stroke-width="0.95" />
<text class="" transform="translate(375.52,137.20) rotate(-45) scale(1.0,1)" font-size="8" word-spacing="0" text-anchor="end" fill="#1a1a1a">ED12</text>
<line x1="396.48" y1="128.30" x2="396.48" y2="131.20" stroke="#222" stroke-width="0.95" />
<text class="" transform="translate(399.88,137.20) rotate(-45) scale(1.0,1)" font-size="8" word-spacing="0" text-anchor="end" fill="#1a1a1a">ED21</text>
<line x1="420.84" y1="128.30" x2="420.84" y2="131.20" stroke="#222" stroke-width="0.95" />
<text class="" transform="translate(424.24,137.20) rotate(-45) scale(1.0,1)" font-size="8" word-spacing="0" text-anchor="end" fill="#1a1a1a">ED35</text>
<line x1="445.20" y1="128.30" x2="445.20" y2="131.20" stroke="#222" stroke-width="0.95" />
<text class="" transform="translate(448.60,137.20) rotate(-45) scale(1.0,1)" font-size="8" word-spacing="0" text-anchor="end" fill="#1a1a1a">ED42</text>
<line x1="469.56" y1="128.30" x2="469.56" y2="131.20" stroke="#222" stroke-width="0.95" />
<text class="" transform="translate(472.96,137.20) rotate(-45) scale(1.0,1)" font-size="8" word-spacing="0" text-anchor="end" fill="#1a1a1a">ED50</text>
<text x="262.50" y="14.20" font-size="11.7" text-anchor="start" fill="#000" font-weight="bold" class="pl">B</text>
<text x="395.60" y="14.30" font-size="9.2" text-anchor="middle" fill="#1a1a1a" class="ttl">Patient 16</text>
<text class="lab" transform="translate(270.10,72.00) rotate(-90) scale(0.646,1)" font-size="10.0" word-spacing="1.0" text-anchor="middle" fill="#1a1a1a">Titer of FVIII-binding antibodies</text>
<text class="lab" transform="translate(502.40,72.00) rotate(90) scale(0.677,1)" font-size="10.0" word-spacing="1.0" text-anchor="middle" fill="#1a1a1a">FVIII inhibitor [BU/ml]</text>
<text x="306.10" y="123.80" font-size="8.05" text-anchor="end" fill="#1a1a1a" >ND</text>
<line x1="336.20" y1="24.30" x2="343.80" y2="24.30" stroke="#37558f" stroke-width="1.0" />
<path d="M337.90,24.30 L340.00,22.70 L342.10,24.30 L340.00,25.90 Z" fill="#fff" stroke="#37558f" stroke-width="1.05" stroke-linejoin="round"/>
<text x="346.70" y="26.60" font-size="7.3" text-anchor="start" fill="#1a1a1a" class="leg">IgG1</text>
<line x1="336.20" y1="34.38" x2="343.80" y2="34.38" stroke="#e8982a" stroke-width="1.0" />
<path d="M337.90,34.38 L340.00,32.78 L342.10,34.38 L340.00,35.98 Z" fill="#fff" stroke="#e8982a" stroke-width="1.05" stroke-linejoin="round"/>
<text x="346.70" y="36.68" font-size="7.3" text-anchor="start" fill="#1a1a1a" class="leg">IgG2</text>
<line x1="336.20" y1="44.46" x2="343.80" y2="44.46" stroke="#633c8e" stroke-width="1.0" />
<path d="M337.90,44.46 L340.00,42.86 L342.10,44.46 L340.00,46.06 Z" fill="#fff" stroke="#633c8e" stroke-width="1.05" stroke-linejoin="round"/>
<text x="346.70" y="46.76" font-size="7.3" text-anchor="start" fill="#1a1a1a" class="leg">IgG3</text>
<line x1="336.20" y1="54.54" x2="343.80" y2="54.54" stroke="#72bd4a" stroke-width="1.0" />
<path d="M337.90,54.54 L340.00,52.94 L342.10,54.54 L340.00,56.14 Z" fill="#fff" stroke="#72bd4a" stroke-width="1.05" stroke-linejoin="round"/>
<text x="346.70" y="56.84" font-size="7.3" text-anchor="start" fill="#1a1a1a" class="leg">IgG4</text>
<line x1="336.20" y1="64.62" x2="343.80" y2="64.62" stroke="#34785a" stroke-width="1.0" />
<ellipse cx="340.00" cy="64.62" rx="2.0" ry="1.6" fill="#fff" stroke="#34785a" stroke-width="1.15"/>
<text x="346.70" y="66.92" font-size="7.3" text-anchor="start" fill="#1a1a1a" class="leg">IgA</text>
<line x1="336.20" y1="74.70" x2="343.80" y2="74.70" stroke="#9d92d6" stroke-width="1.0" />
<path d="M338.10,76.22 L340.00,72.80 L341.90,76.22 Z" fill="#fff" stroke="#9d92d6" stroke-width="1.0"/>
<text x="346.70" y="77.00" font-size="7.3" text-anchor="start" fill="#1a1a1a" class="leg">IgM</text>
<line x1="336.20" y1="84.78" x2="343.80" y2="84.78" stroke="#b3122f" stroke-width="1.0" />
<path d="M338.10,84.78 L340.00,83.18 L341.90,84.78 L340.00,86.38 Z" fill="#b3122f" stroke="#b3122f" stroke-width="0.3" stroke-linejoin="round"/>
<text x="346.70" y="87.08" font-size="7.3" text-anchor="start" fill="#1a1a1a" class="leg">BU/ml</text>
<line x1="53.95" y1="258.40" x2="222.45" y2="258.40" stroke="#b3122f" stroke-width="1.0" stroke-dasharray="1 1" stroke-opacity="0.82"/>
<rect x="77.60" y="213.10" width="4.00" height="5.60" fill="#fff" stroke="#4a629e" stroke-width="0.75"/>
<line x1="77.60" y1="215.60" x2="81.60" y2="215.60" stroke="#4a629e" stroke-width="0.75" />
<rect x="99.20" y="215.60" width="4.00" height="3.50" fill="#fff" stroke="#4a629e" stroke-width="0.75"/>
<line x1="99.20" y1="217.30" x2="103.20" y2="217.30" stroke="#4a629e" stroke-width="0.75" />
<rect x="120.60" y="212.40" width="4.00" height="3.70" fill="#fff" stroke="#4a629e" stroke-width="0.75"/>
<line x1="120.60" y1="214.20" x2="124.60" y2="214.20" stroke="#4a629e" stroke-width="0.75" />
<rect x="141.80" y="217.50" width="4.00" height="0.60" fill="#fff" stroke="#4a629e" stroke-width="0.75"/>
<rect x="163.00" y="210.80" width="4.00" height="5.40" fill="#fff" stroke="#4a629e" stroke-width="0.75"/>
<line x1="163.00" y1="213.40" x2="167.00" y2="213.40" stroke="#4a629e" stroke-width="0.75" />
<rect x="184.80" y="215.80" width="4.00" height="4.70" fill="#fff" stroke="#4a629e" stroke-width="0.75"/>
<line x1="184.80" y1="218.00" x2="188.80" y2="218.00" stroke="#4a629e" stroke-width="0.75" />
<rect x="206.00" y="216.80" width="4.00" height="4.40" fill="#fff" stroke="#4a629e" stroke-width="0.75"/>
<line x1="206.00" y1="219.00" x2="210.00" y2="219.00" stroke="#4a629e" stroke-width="0.75" />
<rect x="87.50" y="261.50" width="4.00" height="5.10" fill="#b9c5e2" stroke="#4a629e" stroke-width="0.75"/>
<line x1="87.50" y1="264.00" x2="91.50" y2="264.00" stroke="#4a629e" stroke-width="0.75" />
<rect x="108.80" y="264.30" width="4.00" height="11.30" fill="#b9c5e2" stroke="#4a629e" stroke-width="0.75"/>
<line x1="108.80" y1="268.37" x2="112.80" y2="268.37" stroke="#4a629e" stroke-width="0.7" />
<line x1="108.80" y1="271.98" x2="112.80" y2="271.98" stroke="#4a629e" stroke-width="0.7" />
<rect x="130.00" y="253.00" width="4.00" height="6.20" fill="#b9c5e2" stroke="#4a629e" stroke-width="0.75"/>
<line x1="130.00" y1="256.00" x2="134.00" y2="256.00" stroke="#4a629e" stroke-width="0.75" />
<rect x="151.20" y="255.00" width="4.00" height="5.00" fill="#b9c5e2" stroke="#4a629e" stroke-width="0.75"/>
<line x1="151.20" y1="257.50" x2="155.20" y2="257.50" stroke="#4a629e" stroke-width="0.75" />
<rect x="172.80" y="263.80" width="4.00" height="9.20" fill="#b9c5e2" stroke="#4a629e" stroke-width="0.75"/>
<line x1="172.80" y1="267.11" x2="176.80" y2="267.11" stroke="#4a629e" stroke-width="0.7" />
<line x1="172.80" y1="270.06" x2="176.80" y2="270.06" stroke="#4a629e" stroke-width="0.7" />
<rect x="194.50" y="266.20" width="4.00" height="9.40" fill="#b9c5e2" stroke="#4a629e" stroke-width="0.75"/>
<line x1="194.50" y1="269.58" x2="198.50" y2="269.58" stroke="#4a629e" stroke-width="0.7" />
<line x1="194.50" y1="272.59" x2="198.50" y2="272.59" stroke="#4a629e" stroke-width="0.7" />
<rect x="215.80" y="263.20" width="4.00" height="6.80" fill="#b9c5e2" stroke="#4a629e" stroke-width="0.75"/>
<line x1="215.80" y1="266.50" x2="219.80" y2="266.50" stroke="#4a629e" stroke-width="0.75" />
<path d="M61.60,268.40 L63.40,266.60 L65.20,268.40 L63.40,270.20 Z" fill="#b3122f" stroke="#b3122f" stroke-width="0.3" stroke-linejoin="round"/>
<path d="M82.96,268.40 L84.76,266.60 L86.56,268.40 L84.76,270.20 Z" fill="#b3122f" stroke="#b3122f" stroke-width="0.3" stroke-linejoin="round"/>
<path d="M104.32,268.40 L106.12,266.60 L107.92,268.40 L106.12,270.20 Z" fill="#b3122f" stroke="#b3122f" stroke-width="0.3" stroke-linejoin="round"/>
<path d="M125.68,268.40 L127.48,266.60 L129.28,268.40 L127.48,270.20 Z" fill="#b3122f" stroke="#b3122f" stroke-width="0.3" stroke-linejoin="round"/>
<path d="M147.04,257.00 L148.84,255.20 L150.64,257.00 L148.84,258.80 Z" fill="#b3122f" stroke="#b3122f" stroke-width="0.3" stroke-linejoin="round"/>
<path d="M168.40,250.50 L170.20,248.70 L172.00,250.50 L170.20,252.30 Z" fill="#b3122f" stroke="#b3122f" stroke-width="0.3" stroke-linejoin="round"/>
<path d="M189.76,247.00 L191.56,245.20 L193.36,247.00 L191.56,248.80 Z" fill="#b3122f" stroke="#b3122f" stroke-width="0.3" stroke-linejoin="round"/>
<path d="M211.12,263.00 L212.92,261.20 L214.72,263.00 L212.92,264.80 Z" fill="#b3122f" stroke="#b3122f" stroke-width="0.3" stroke-linejoin="round"/>
<line x1="52.50" y1="164.60" x2="52.50" y2="276.52" stroke="#000" stroke-width="1.25" />
<line x1="223.05" y1="164.60" x2="223.05" y2="258.85" stroke="#000" stroke-width="1.25" />
<line x1="223.05" y1="260.35" x2="223.05" y2="276.52" stroke="#000" stroke-width="1.25" />
<line x1="221.35" y1="258.40" x2="224.75" y2="258.40" stroke="#000" stroke-width="0.9" />
<line x1="221.35" y1="260.80" x2="224.75" y2="260.80" stroke="#000" stroke-width="0.9" />
<line x1="51.88" y1="275.90" x2="226.05" y2="275.90" stroke="#000" stroke-width="1.18" />
<line x1="49.40" y1="167.80" x2="52.50" y2="167.80" stroke="#000" stroke-width="1.1" />
<text class="sup" x="46.60" y="168.90" font-size="5.8" text-anchor="end" fill="#1a1a1a">12</text>
<text transform="translate(39.36,171.90) scale(0.86,1)" font-size="8.1" text-anchor="end" fill="#1a1a1a">10</text>
<line x1="49.40" y1="188.16" x2="52.50" y2="188.16" stroke="#000" stroke-width="1.1" />
<text class="sup" x="46.60" y="189.04" font-size="5.8" text-anchor="end" fill="#1a1a1a">11</text>
<text transform="translate(39.36,192.04) scale(0.86,1)" font-size="8.1" text-anchor="end" fill="#1a1a1a">10</text>
<line x1="49.40" y1="208.52" x2="52.50" y2="208.52" stroke="#000" stroke-width="1.1" />
<text class="sup" x="46.60" y="209.18" font-size="5.8" text-anchor="end" fill="#1a1a1a">10</text>
<text transform="translate(39.36,212.18) scale(0.86,1)" font-size="8.1" text-anchor="end" fill="#1a1a1a">10</text>
<line x1="49.40" y1="228.88" x2="52.50" y2="228.88" stroke="#000" stroke-width="1.1" />
<text class="sup" x="46.60" y="229.32" font-size="5.8" text-anchor="end" fill="#1a1a1a">9</text>
<text transform="translate(42.53,232.32) scale(0.86,1)" font-size="8.1" text-anchor="end" fill="#1a1a1a">10</text>
<line x1="49.40" y1="249.24" x2="52.50" y2="249.24" stroke="#000" stroke-width="1.1" />
<text class="sup" x="46.60" y="249.46" font-size="5.8" text-anchor="end" fill="#1a1a1a">8</text>
<text transform="translate(42.53,252.46) scale(0.86,1)" font-size="8.1" text-anchor="end" fill="#1a1a1a">10</text>
<line x1="49.40" y1="269.60" x2="52.50" y2="269.60" stroke="#000" stroke-width="1.1" />
<text class="sup" x="46.60" y="269.60" font-size="5.8" text-anchor="end" fill="#1a1a1a">7</text>
<text transform="translate(42.53,272.60) scale(0.86,1)" font-size="8.1" text-anchor="end" fill="#1a1a1a">10</text>
<line x1="223.05" y1="168.20" x2="226.15" y2="168.20" stroke="#000" stroke-width="1.1" />
<text x="229.45" y="170.80" font-size="8.05" text-anchor="start" fill="#1a1a1a" >10</text>
<line x1="223.05" y1="187.39" x2="226.15" y2="187.39" stroke="#000" stroke-width="1.1" />
<text x="229.05" y="189.99" font-size="8.05" text-anchor="start" fill="#1a1a1a" >8</text>
<line x1="223.05" y1="206.58" x2="226.15" y2="206.58" stroke="#000" stroke-width="1.1" />
<text x="229.05" y="209.18" font-size="8.05" text-anchor="start" fill="#1a1a1a" >6</text>
<line x1="223.05" y1="225.77" x2="226.15" y2="225.77" stroke="#000" stroke-width="1.1" />
<text x="229.05" y="228.37" font-size="8.05" text-anchor="start" fill="#1a1a1a" >4</text>
<line x1="223.05" y1="244.97" x2="226.15" y2="244.97" stroke="#000" stroke-width="1.1" />
<text x="229.05" y="247.57" font-size="8.05" text-anchor="start" fill="#1a1a1a" >2</text>
<line x1="223.05" y1="258.40" x2="226.15" y2="258.40" stroke="#000" stroke-width="1.1" />
<text x="228.45" y="261.00" font-size="8.05" text-anchor="start" fill="#1a1a1a" >0.6</text>
<line x1="223.05" y1="265.60" x2="226.15" y2="265.60" stroke="#000" stroke-width="1.1" />
<text x="228.45" y="268.20" font-size="8.05" text-anchor="start" fill="#1a1a1a" >0.4</text>
<line x1="223.05" y1="275.90" x2="226.15" y2="275.90" stroke="#000" stroke-width="1.1" />
<text x="228.45" y="278.20" font-size="8.05" text-anchor="start" fill="#1a1a1a" >0.0</text>
<line x1="63.40" y1="275.90" x2="63.40" y2="278.80" stroke="#222" stroke-width="0.95" />
<text class="" transform="translate(65.80,284.70) rotate(-45) scale(1.0,1)" font-size="8" word-spacing="0" text-anchor="end" fill="#1a1a1a">B</text>
<line x1="84.76" y1="275.90" x2="84.76" y2="278.80" stroke="#222" stroke-width="0.95" />
<text class="" transform="translate(87.16,284.70) rotate(-45) scale(1.0,1)" font-size="8" word-spacing="0" text-anchor="end" fill="#1a1a1a">ED1</text>
<line x1="106.12" y1="275.90" x2="106.12" y2="278.80" stroke="#222" stroke-width="0.95" />
<text class="" transform="translate(108.52,284.70) rotate(-45) scale(1.0,1)" font-size="8" word-spacing="0" text-anchor="end" fill="#1a1a1a">ED5</text>
<line x1="127.48" y1="275.90" x2="127.48" y2="278.80" stroke="#222" stroke-width="0.95" />
<text class="" transform="translate(129.88,284.70) rotate(-45) scale(1.0,1)" font-size="8" word-spacing="0" text-anchor="end" fill="#1a1a1a">ED10</text>
<line x1="148.84" y1="275.90" x2="148.84" y2="278.80" stroke="#222" stroke-width="0.95" />
<text class="" transform="translate(151.24,284.70) rotate(-45) scale(1.0,1)" font-size="8" word-spacing="0" text-anchor="end" fill="#1a1a1a">ED20</text>
<line x1="170.20" y1="275.90" x2="170.20" y2="278.80" stroke="#222" stroke-width="0.95" />
<text class="" transform="translate(172.60,284.70) rotate(-45) scale(1.0,1)" font-size="8" word-spacing="0" text-anchor="end" fill="#1a1a1a">ED32</text>
<line x1="191.56" y1="275.90" x2="191.56" y2="278.80" stroke="#222" stroke-width="0.95" />
<text class="" transform="translate(193.96,284.70) rotate(-45) scale(1.0,1)" font-size="8" word-spacing="0" text-anchor="end" fill="#1a1a1a">ED40</text>
<line x1="212.92" y1="275.90" x2="212.92" y2="278.80" stroke="#222" stroke-width="0.95" />
<text class="" transform="translate(215.32,284.70) rotate(-45) scale(1.0,1)" font-size="8" word-spacing="0" text-anchor="end" fill="#1a1a1a">ED50</text>
<text x="6.90" y="165.20" font-size="11.7" text-anchor="start" fill="#000" font-weight="bold" class="pl">C</text>
<text class="lab" transform="translate(22.60,220.60) rotate(-90) scale(0.655,1)" font-size="10.0" word-spacing="1.0" text-anchor="middle" fill="#1a1a1a">Mean K<tspan font-size="7.0" dy="2.0" dx="2.2">A</tspan><tspan dy="-2.0" dx="0.6"> ±95% CI [M</tspan><tspan font-size="6.3" dy="-3.6">-1</tspan><tspan dy="3.6">]</tspan></text>
<text class="lab" transform="translate(245.60,219.80) rotate(90) scale(0.677,1)" font-size="10.0" word-spacing="1.0" text-anchor="middle" fill="#1a1a1a">FVIII inhibitor [BU/ml]</text>
<text class="lab" transform="translate(136.50,311.90) scale(0.647,1)" font-size="10.0" word-spacing="1.0" text-anchor="middle" fill="#1a1a1a">Observation time [days]</text>
<rect x="61.45" y="169.70" width="3.3" height="3.0" fill="#fff" stroke="#37558f" stroke-width="1.0"/>
<text x="68.10" y="173.40" font-size="7.1" text-anchor="start" fill="#1a1a1a" class="leg">IgG1 Population 1</text>
<rect x="61.45" y="181.30" width="3.3" height="3.0" fill="#b9c5e2" stroke="#37558f" stroke-width="1.0"/>
<text x="68.10" y="185.00" font-size="7.1" text-anchor="start" fill="#1a1a1a" class="leg">IgG1 Population 2</text>
<path d="M61.45,194.40 L63.10,192.75 L64.75,194.40 L63.10,196.05 Z" fill="#b3122f" stroke="#b3122f" stroke-width="0.2" stroke-linejoin="round"/>
<text x="68.10" y="196.60" font-size="7.1" text-anchor="start" fill="#1a1a1a" class="leg">BU/ml</text>
<line x1="312.95" y1="258.40" x2="482.00" y2="258.40" stroke="#b3122f" stroke-width="1.0" stroke-dasharray="1 1" stroke-opacity="0.82"/>
<rect x="364.60" y="199.70" width="4.40" height="7.00" fill="#fff" stroke="#4a629e" stroke-width="0.75"/>
<line x1="364.60" y1="203.00" x2="369.00" y2="203.00" stroke="#4a629e" stroke-width="0.75" />
<rect x="389.10" y="188.80" width="4.40" height="15.10" fill="#fff" stroke="#4a629e" stroke-width="0.75"/>
<line x1="389.10" y1="193.40" x2="393.50" y2="193.40" stroke="#4a629e" stroke-width="0.75" />
<rect x="375.70" y="251.30" width="4.40" height="8.20" fill="#b9c5e2" stroke="#4a629e" stroke-width="0.75"/>
<line x1="375.70" y1="254.25" x2="380.10" y2="254.25" stroke="#4a629e" stroke-width="0.7" />
<line x1="375.70" y1="256.88" x2="380.10" y2="256.88" stroke="#4a629e" stroke-width="0.7" />
<rect x="400.00" y="254.40" width="4.40" height="12.60" fill="#b9c5e2" stroke="#4a629e" stroke-width="0.75"/>
<line x1="400.00" y1="258.94" x2="404.40" y2="258.94" stroke="#4a629e" stroke-width="0.7" />
<line x1="400.00" y1="262.97" x2="404.40" y2="262.97" stroke="#4a629e" stroke-width="0.7" />
<path d="M321.65,268.40 L323.45,266.60 L325.25,268.40 L323.45,270.20 Z" fill="#b3122f" stroke="#b3122f" stroke-width="0.3" stroke-linejoin="round"/>
<path d="M370.63,250.70 L372.43,248.90 L374.23,250.70 L372.43,252.50 Z" fill="#b3122f" stroke="#b3122f" stroke-width="0.3" stroke-linejoin="round"/>
<path d="M395.12,256.70 L396.92,254.90 L398.72,256.70 L396.92,258.50 Z" fill="#b3122f" stroke="#b3122f" stroke-width="0.3" stroke-linejoin="round"/>
<path d="M419.61,268.40 L421.41,266.60 L423.21,268.40 L421.41,270.20 Z" fill="#b3122f" stroke="#b3122f" stroke-width="0.3" stroke-linejoin="round"/>
<path d="M444.10,268.40 L445.90,266.60 L447.70,268.40 L445.90,270.20 Z" fill="#b3122f" stroke="#b3122f" stroke-width="0.3" stroke-linejoin="round"/>
<path d="M468.59,268.40 L470.39,266.60 L472.19,268.40 L470.39,270.20 Z" fill="#b3122f" stroke="#b3122f" stroke-width="0.3" stroke-linejoin="round"/>
<line x1="311.50" y1="164.80" x2="311.50" y2="276.48" stroke="#000" stroke-width="1.25" />
<line x1="482.60" y1="164.80" x2="482.60" y2="258.85" stroke="#000" stroke-width="1.25" />
<line x1="482.60" y1="260.35" x2="482.60" y2="276.48" stroke="#000" stroke-width="1.25" />
<line x1="480.90" y1="258.40" x2="484.30" y2="258.40" stroke="#000" stroke-width="0.9" />
<line x1="480.90" y1="260.80" x2="484.30" y2="260.80" stroke="#000" stroke-width="0.9" />
<line x1="310.88" y1="275.85" x2="485.60" y2="275.85" stroke="#000" stroke-width="1.18" />
<line x1="308.40" y1="167.80" x2="311.50" y2="167.80" stroke="#000" stroke-width="1.1" />
<text class="sup" x="305.60" y="168.90" font-size="5.8" text-anchor="end" fill="#1a1a1a">12</text>
<text transform="translate(298.36,171.90) scale(0.86,1)" font-size="8.1" text-anchor="end" fill="#1a1a1a">10</text>
<line x1="308.40" y1="188.16" x2="311.50" y2="188.16" stroke="#000" stroke-width="1.1" />
<text class="sup" x="305.60" y="189.04" font-size="5.8" text-anchor="end" fill="#1a1a1a">11</text>
<text transform="translate(298.36,192.04) scale(0.86,1)" font-size="8.1" text-anchor="end" fill="#1a1a1a">10</text>
<line x1="308.40" y1="208.52" x2="311.50" y2="208.52" stroke="#000" stroke-width="1.1" />
<text class="sup" x="305.60" y="209.18" font-size="5.8" text-anchor="end" fill="#1a1a1a">10</text>
<text transform="translate(298.36,212.18) scale(0.86,1)" font-size="8.1" text-anchor="end" fill="#1a1a1a">10</text>
<line x1="308.40" y1="228.88" x2="311.50" y2="228.88" stroke="#000" stroke-width="1.1" />
<text class="sup" x="305.60" y="229.32" font-size="5.8" text-anchor="end" fill="#1a1a1a">9</text>
<text transform="translate(301.53,232.32) scale(0.86,1)" font-size="8.1" text-anchor="end" fill="#1a1a1a">10</text>
<line x1="308.40" y1="249.24" x2="311.50" y2="249.24" stroke="#000" stroke-width="1.1" />
<text class="sup" x="305.60" y="249.46" font-size="5.8" text-anchor="end" fill="#1a1a1a">8</text>
<text transform="translate(301.53,252.46) scale(0.86,1)" font-size="8.1" text-anchor="end" fill="#1a1a1a">10</text>
<line x1="308.40" y1="269.60" x2="311.50" y2="269.60" stroke="#000" stroke-width="1.1" />
<text class="sup" x="305.60" y="269.60" font-size="5.8" text-anchor="end" fill="#1a1a1a">7</text>
<text transform="translate(301.53,272.60) scale(0.86,1)" font-size="8.1" text-anchor="end" fill="#1a1a1a">10</text>
<line x1="482.60" y1="168.20" x2="485.70" y2="168.20" stroke="#000" stroke-width="1.1" />
<text x="489.80" y="170.80" font-size="8.05" text-anchor="start" fill="#1a1a1a" >10</text>
<line x1="482.60" y1="187.39" x2="485.70" y2="187.39" stroke="#000" stroke-width="1.1" />
<text x="489.40" y="189.99" font-size="8.05" text-anchor="start" fill="#1a1a1a" >8</text>
<line x1="482.60" y1="206.58" x2="485.70" y2="206.58" stroke="#000" stroke-width="1.1" />
<text x="489.40" y="209.18" font-size="8.05" text-anchor="start" fill="#1a1a1a" >6</text>
<line x1="482.60" y1="225.77" x2="485.70" y2="225.77" stroke="#000" stroke-width="1.1" />
<text x="489.40" y="228.37" font-size="8.05" text-anchor="start" fill="#1a1a1a" >4</text>
<line x1="482.60" y1="244.97" x2="485.70" y2="244.97" stroke="#000" stroke-width="1.1" />
<text x="489.40" y="247.57" font-size="8.05" text-anchor="start" fill="#1a1a1a" >2</text>
<line x1="482.60" y1="258.40" x2="485.70" y2="258.40" stroke="#000" stroke-width="1.1" />
<text x="488.80" y="261.00" font-size="8.05" text-anchor="start" fill="#1a1a1a" >0.6</text>
<line x1="482.60" y1="265.60" x2="485.70" y2="265.60" stroke="#000" stroke-width="1.1" />
<text x="488.80" y="268.20" font-size="8.05" text-anchor="start" fill="#1a1a1a" >0.4</text>
<line x1="482.60" y1="275.85" x2="485.70" y2="275.85" stroke="#000" stroke-width="1.1" />
<text x="488.80" y="278.15" font-size="8.05" text-anchor="start" fill="#1a1a1a" >0.0</text>
<line x1="323.45" y1="275.85" x2="323.45" y2="278.75" stroke="#222" stroke-width="0.95" />
<text class="" transform="translate(326.65,285.05) rotate(-45) scale(1.0,1)" font-size="8" word-spacing="0" text-anchor="end" fill="#1a1a1a">B</text>
<line x1="347.94" y1="275.85" x2="347.94" y2="278.75" stroke="#222" stroke-width="0.95" />
<text class="" transform="translate(351.14,285.05) rotate(-45) scale(1.0,1)" font-size="8" word-spacing="0" text-anchor="end" fill="#1a1a1a">ED1</text>
<line x1="372.43" y1="275.85" x2="372.43" y2="278.75" stroke="#222" stroke-width="0.95" />
<text class="" transform="translate(375.63,285.05) rotate(-45) scale(1.0,1)" font-size="8" word-spacing="0" text-anchor="end" fill="#1a1a1a">ED12</text>
<line x1="396.92" y1="275.85" x2="396.92" y2="278.75" stroke="#222" stroke-width="0.95" />
<text class="" transform="translate(400.12,285.05) rotate(-45) scale(1.0,1)" font-size="8" word-spacing="0" text-anchor="end" fill="#1a1a1a">ED21</text>
<line x1="421.41" y1="275.85" x2="421.41" y2="278.75" stroke="#222" stroke-width="0.95" />
<text class="" transform="translate(424.61,285.05) rotate(-45) scale(1.0,1)" font-size="8" word-spacing="0" text-anchor="end" fill="#1a1a1a">ED35</text>
<line x1="445.90" y1="275.85" x2="445.90" y2="278.75" stroke="#222" stroke-width="0.95" />
<text class="" transform="translate(449.10,285.05) rotate(-45) scale(1.0,1)" font-size="8" word-spacing="0" text-anchor="end" fill="#1a1a1a">ED42</text>
<line x1="470.39" y1="275.85" x2="470.39" y2="278.75" stroke="#222" stroke-width="0.95" />
<text class="" transform="translate(473.59,285.05) rotate(-45) scale(1.0,1)" font-size="8" word-spacing="0" text-anchor="end" fill="#1a1a1a">ED50</text>
<text x="262.50" y="165.20" font-size="11.7" text-anchor="start" fill="#000" font-weight="bold" class="pl">D</text>
<text class="lab" transform="translate(281.60,220.60) rotate(-90) scale(0.655,1)" font-size="10.0" word-spacing="1.0" text-anchor="middle" fill="#1a1a1a">Mean K<tspan font-size="7.0" dy="2.0" dx="2.2">A</tspan><tspan dy="-2.0" dx="0.6"> ±95% CI [M</tspan><tspan font-size="6.3" dy="-3.6">-1</tspan><tspan dy="3.6">]</tspan></text>
<text class="lab" transform="translate(504.90,219.80) rotate(90) scale(0.677,1)" font-size="10.0" word-spacing="1.0" text-anchor="middle" fill="#1a1a1a">FVIII inhibitor [BU/ml]</text>
<text class="lab" transform="translate(396.60,311.85) scale(0.647,1)" font-size="10.0" word-spacing="1.0" text-anchor="middle" fill="#1a1a1a">Observation time [days]</text>
<rect x="321.65" y="169.70" width="3.7" height="3.0" fill="#fff" stroke="#37558f" stroke-width="1.0"/>
<text x="328.50" y="173.40" font-size="7.1" text-anchor="start" fill="#1a1a1a" class="leg">IgG1 Population 1</text>
<rect x="321.65" y="181.30" width="3.7" height="3.0" fill="#b9c5e2" stroke="#37558f" stroke-width="1.0"/>
<text x="328.50" y="185.00" font-size="7.1" text-anchor="start" fill="#1a1a1a" class="leg">IgG1 Population 2</text>
<path d="M321.65,194.40 L323.50,192.55 L325.35,194.40 L323.50,196.25 Z" fill="#b3122f" stroke="#b3122f" stroke-width="0.2" stroke-linejoin="round"/>
<text x="328.50" y="196.60" font-size="7.1" text-anchor="start" fill="#1a1a1a" class="leg">BU/ml</text>
</svg>
</body>
</html>
